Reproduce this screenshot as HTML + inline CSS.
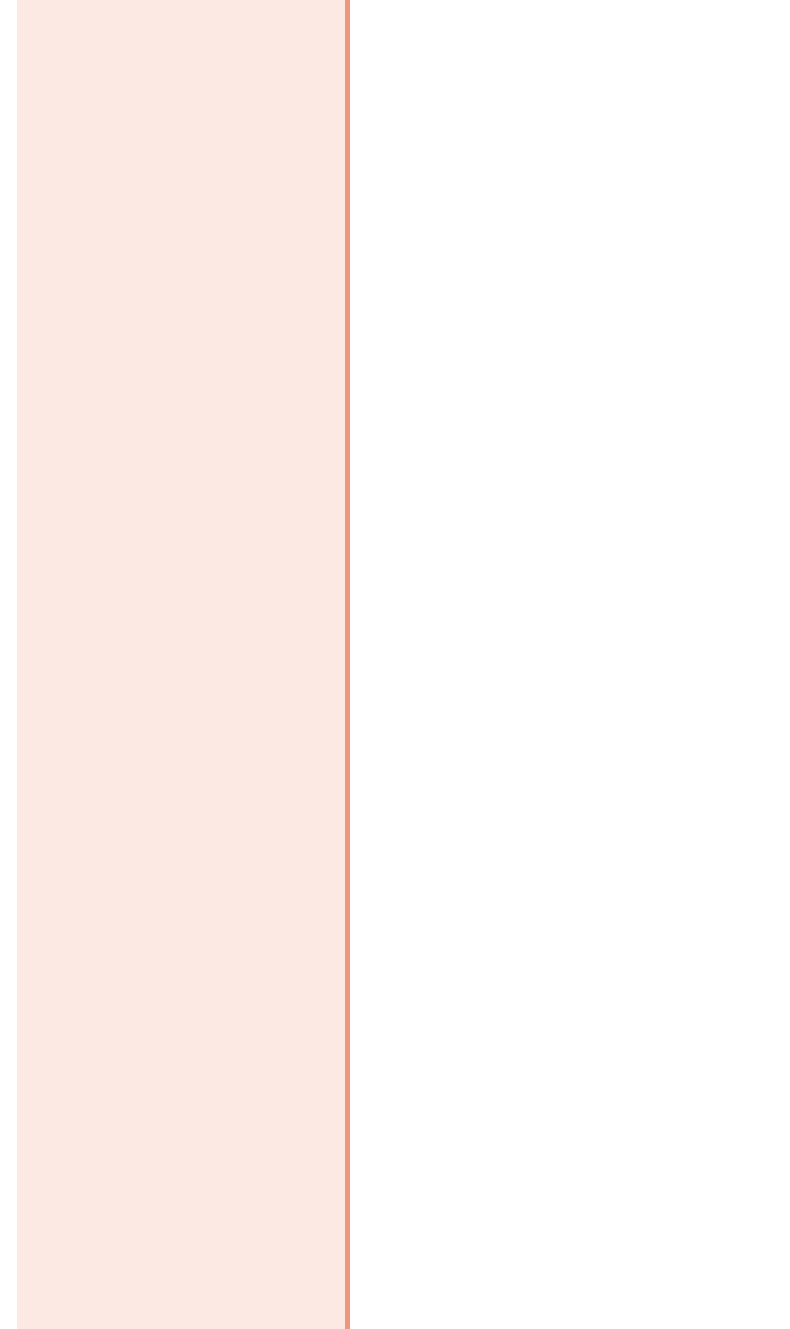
<!DOCTYPE html>
<html>
<head>
<meta charset="utf-8">
<style>
  html,body{margin:0;padding:0;background:#ffffff;}
  body{width:790px;height:1329px;overflow:hidden;font-family:"Liberation Sans",sans-serif;}
  svg{display:block;}
</style>
</head>
<body>
<svg id="chart" width="790" height="1329" viewBox="0 0 790 1329"></svg>
<script>
const categories = ["band"];
const bandStart = [0];
const bandEnd = [328];

const svg = document.getElementById('chart');
const NS = 'http://www.w3.org/2000/svg';
const x0 = 17;
function xScale(v){ return x0 + v; }

for (let i = 0; i < categories.length; i++) {
  const xa = xScale(bandStart[i]);
  const xb = xScale(bandEnd[i]);
  const r = document.createElementNS(NS, 'rect');
  r.setAttribute('x', xa);
  r.setAttribute('y', 0);
  r.setAttribute('width', xb - xa);
  r.setAttribute('height', 1329);
  r.setAttribute('fill', '#fce9e3');
  
  
  svg.appendChild(r);

  const e = document.createElementNS(NS, 'rect');
  e.setAttribute('x', xb);
  e.setAttribute('y', 0);
  e.setAttribute('width', 5);
  e.setAttribute('height', 1329);
  e.setAttribute('fill', '#f0967a');
  
  
  svg.appendChild(e);
}
</script>
</body>
</html>
